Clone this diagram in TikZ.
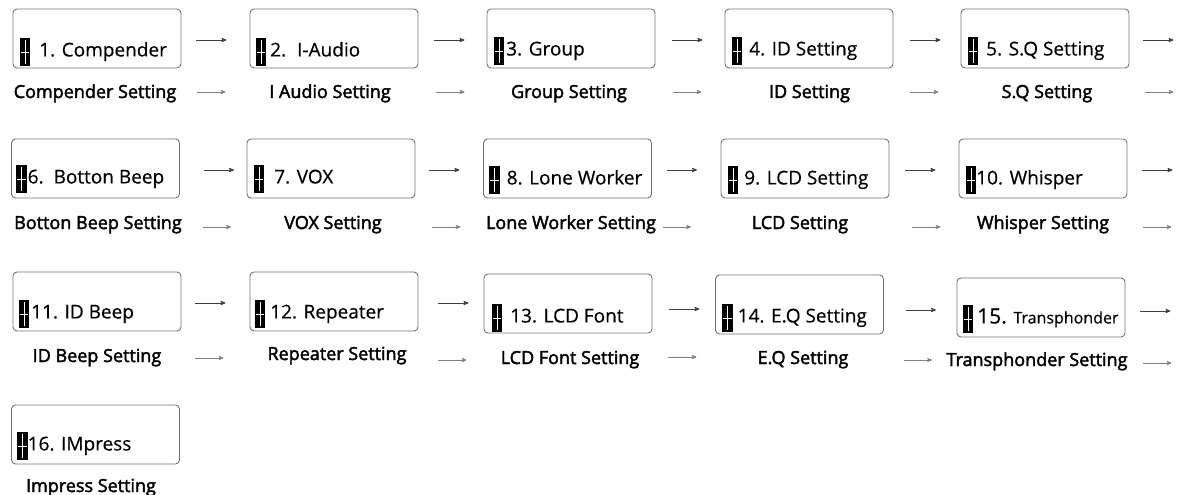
\documentclass[tikz,border=0pt]{standalone}
\usepackage{fontspec}
\setmainfont{Open Sans}
\newfontfamily\scrfont[FakeBold=0.4]{Open Sans}
\newfontfamily\capfont[FakeBold=2.3]{Open Sans}
\usetikzlibrary{arrows}

% black cursor block with a white cross, #1 = gap after it
\newcommand\crsr[1][3]{\raisebox{-10pt}{\rlap{\rule{10.5pt}{28pt}}\rlap{\hspace{4.8pt}\textcolor{white}{\rule[2pt]{0.9pt}{24pt}}}\hspace{1pt}\textcolor{white}{\rule[14pt]{8.5pt}{0.8pt}}\hspace{1pt}}\hspace{#1pt}}

\begin{document}
\begin{tikzpicture}
	[x=1pt,y=-1pt,>=stealth',
		box/.style={draw=black!55,rounded corners=4pt,line width=0.9pt,minimum width=168pt,minimum height=59pt,inner sep=0pt},
		txt/.style={anchor=base west,inner sep=0pt,font=\scrfont\fontsize{19}{22}\selectfont},
		lbl/.style={anchor=base,inner sep=0pt,font=\capfont\fontsize{18}{21}\selectfont},
		arr/.style={->,line width=0.8pt,draw=black!75},
		larr/.style={->,line width=0.7pt,draw=black!50}]

	\useasboundingbox (0,0) rectangle (1179,495);

	% menu screens
	\node[box] (b1)  at (97,38.5)    {};
	\node[box] (b2)  at (334,38.5)   {};
	\node[box] (b3)  at (571,38.5)   {};
	\node[box] (b4)  at (809,38.5)   {};
	\node[box] (b5)  at (1045,38.5)  {};
	\node[box] (b6)  at (95.5,168.5) {};
	\node[box] (b7)  at (331,168.5)  {};
	\node[box] (b8)  at (567.5,168.5) {};
	\node[box] (b9)  at (805,168.5)  {};
	\node[box] (b10) at (1043,168.5) {};
	\node[box] (b11) at (97,301.5)   {};
	\node[box] (b12) at (334,301.5)  {};
	\node[box] (b13) at (568,303.5)  {};
	\node[box] (b14) at (799.5,304.5) {};
	\node[box] (b15) at (1041,307.5) {};
	\node[box] (b16) at (95.5,434.5) {};

	\node[txt] (t1)  at ([xshift=7,yshift=12]b1.south west)  {\crsr[9]1. Compender};
	\node[txt] (t2)  at ([xshift=6,yshift=12]b2.south west)  {\crsr[4]2.\hspace{11pt}I-Audio};
	\node[txt] (t3)  at ([xshift=7,yshift=13]b3.south west)  {\crsr[2]3. Group};
	\node[txt] (t4)  at ([xshift=7,yshift=13]b4.south west)  {\crsr[7]4. ID Setting};
	\node[txt] (t5)  at ([xshift=7,yshift=13]b5.south west)  {\crsr[8]5. S.Q Setting};
	\node[txt] (t6)  at ([xshift=5,yshift=15]b6.south west)  {\crsr[1]6.\hspace{10pt}Botton Beep};
	\node[txt] (t7)  at ([xshift=7,yshift=15]b7.south west)  {\crsr[10]7. VOX};
	\node[txt] (t8)  at ([xshift=6,yshift=14]b8.south west)  {\crsr[7]8. Lone Worker};
	\node[txt] (t9)  at ([xshift=7,yshift=14]b9.south west)  {\crsr[6]9. LCD Setting};
	\node[txt] (t10) at ([xshift=7,yshift=14]b10.south west) {\crsr[0]10. Whisper};
	\node[txt] (t11) at ([xshift=6,yshift=13]b11.south west) {\crsr[2]11. ID Beep};
	\node[txt] (t12) at ([xshift=5,yshift=13]b12.south west) {\crsr[5]12. Repeater};
	\node[txt] (t13) at ([xshift=8,yshift=11]b13.south west) {\crsr[8]13. LCD Font};
	\node[txt] (t14) at ([xshift=7,yshift=12]b14.south west) {\crsr[5]14. E.Q Setting};
	\node[txt] (t15) at ([xshift=6,yshift=14]b15.south west) {\crsr[4]{\fontsize{21}{24}\selectfont 15.} {\fontsize{16}{19}\selectfont Transphonder}};
	\node[txt] (t16) at ([xshift=6,yshift=14]b16.south west) {\crsr[0]16. IMpress};

	% captions
	\node[lbl] (l1)  at (95,98)    {Compender Setting};
	\node[lbl] (l2)  at (330,98)   {I Audio Setting};
	\node[lbl] (l3)  at (569,98)   {Group Setting};
	\node[lbl] (l4)  at (809.5,98) {ID Setting};
	\node[lbl] (l5)  at (1047,98)  {S.Q Setting};
	\node[lbl] (l6)  at (98,229)   {Botton Beep Setting};
	\node[lbl] (l7)  at (333,229)  {VOX Setting};
	\node[lbl] (l8)  at (571,229)  {Lone Worker Setting};
	\node[lbl] (l9)  at (800,229)  {LCD Setting};
	\node[lbl] (l10) at (1043,229) {Whisper Setting};
	\node[lbl] (l11) at (97,362)   {ID Beep Setting};
	\node[lbl] (l12) at (337,360)  {Repeater Setting};
	\node[lbl] (l13) at (570,364)  {LCD Font Setting};
	\node[lbl] (l14) at (803,364)  {E.Q Setting};
	\node[lbl] (l15) at (1037,366) {Transphonder Setting};
	\node[lbl] (l16) at (91,492)   {Impress Setting};

	% next-item arrows
	\foreach \b/\l/\dx/\dy/\lx/\ly in {b1/l1/15/-1.5/16/6, b2/l2/16/-1.5/18/6, b3/l3/17/-1.5/18/6, b4/l4/17/-1.5/17/6, b5/l5/14/-1.5/16/6,
		b6/l6/24/-1.5/23/2, b7/l7/14/-1.5/17/2, b8/l8/15/-1.5/11/2, b9/l9/16/-1.5/23/2, b10/l10/15/-1.5/16/2,
		b11/l11/14/-1.5/14/4, b12/l12/20/-1.5/20/0, b13/l13/17/-5.5/16/7, b14/l14/22/-5.5/20/4, b15/l15/15/-3.5/18/3}
	{
		\draw[arr]  ([xshift=\dx,yshift=\dy]\b.east) -- ++(30,0);
		\draw[larr] ([xshift=\lx]\b.east |- \l.base) ++(0,-\ly) -- ++(28,0);
	}

\end{tikzpicture}
\end{document}
